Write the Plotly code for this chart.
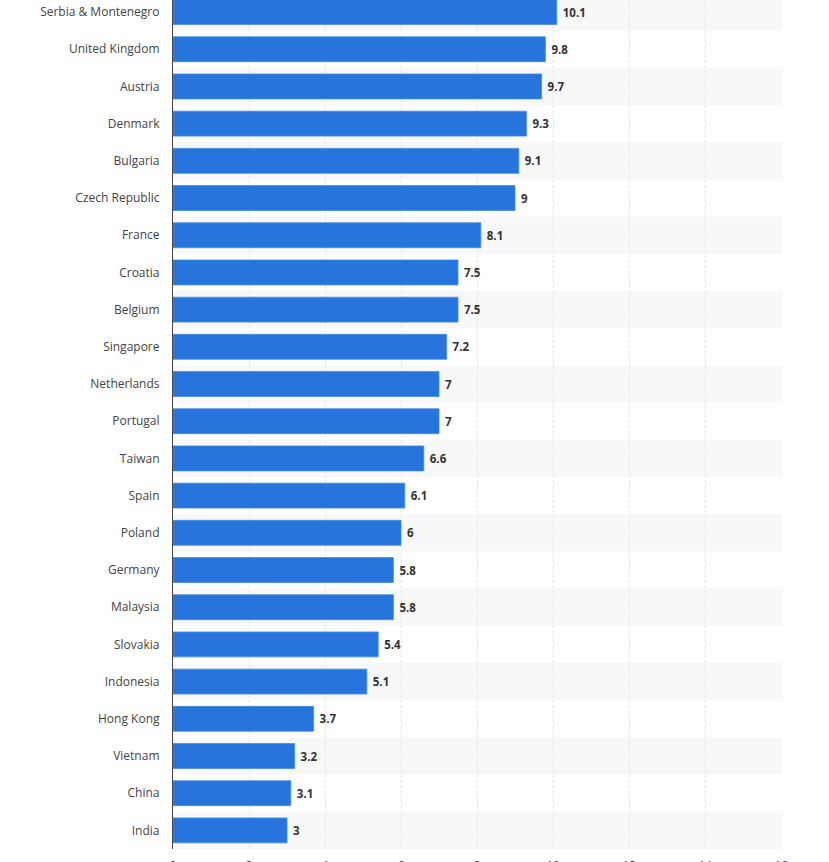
import plotly.graph_objects as go

countries = ["Serbia & Montenegro", "United Kingdom", "Austria", "Denmark", "Bulgaria",
             "Czech Republic", "France", "Croatia", "Belgium", "Singapore", "Netherlands",
             "Portugal", "Taiwan", "Spain", "Poland", "Germany", "Malaysia", "Slovakia",
             "Indonesia", "Hong Kong", "Vietnam", "China", "India"]
values = [10.1, 9.8, 9.7, 9.3, 9.1, 9, 8.1, 7.5, 7.5, 7.2, 7, 7, 6.6, 6.1, 6, 5.8, 5.8,
          5.4, 5.1, 3.7, 3.2, 3.1, 3]
x_ticks = [0, 2, 4, 6, 8, 10, 12, 14, 16]

# bottom-to-top order
cats = countries[::-1]
vals = values[::-1]

fig = go.Figure()
fig.add_trace(go.Bar(
    y=cats, x=vals, orientation="h", width=0.67,
    marker=dict(color="#2674dc", line=dict(color="#4a8ae4", width=0.8)),
    text=[f" {v:g}" for v in vals], textposition="outside",
    textfont=dict(family="Open Sans", size=11.5, color="#333333", weight="bold"),
    cliponaxis=False,
))

shapes = []
for i in range(len(cats)):
    if i % 2 == 0:
        shapes.append(dict(type="rect", xref="paper", yref="y", x0=0, x1=1.003,
                           y0=i - 0.5, y1=i + 0.5, fillcolor="#f8f8f8",
                           line=dict(width=0), layer="below"))

H = 862
top = 0
bottom = 13.4
plot_h = H - top - bottom
row = 37.18
span = plot_h / row

fig.update_layout(
    width=829, height=862,
    margin=dict(l=173, r=48, t=top, b=bottom),
    paper_bgcolor="white", plot_bgcolor="white",
    showlegend=False, shapes=shapes,
    font=dict(family="Open Sans", size=12, color="#444444"),
    xaxis=dict(range=[0, 16], tickvals=x_ticks, showgrid=True, gridcolor="#e6e6e6",
               griddash="3px,2px", gridwidth=1, zeroline=False, showline=False,
               ticks="", ticklabelstandoff=8, automargin=False,
               tickfont=dict(size=12, color="#444444")),
    yaxis=dict(range=[-0.5, -0.5 + span], showgrid=False, showline=True,
               linecolor="#444444", linewidth=1.2, ticks="", ticklabelstandoff=10,
               automargin=False, tickfont=dict(size=12, color="#444444")),
)

fig.write_html("out.html")
